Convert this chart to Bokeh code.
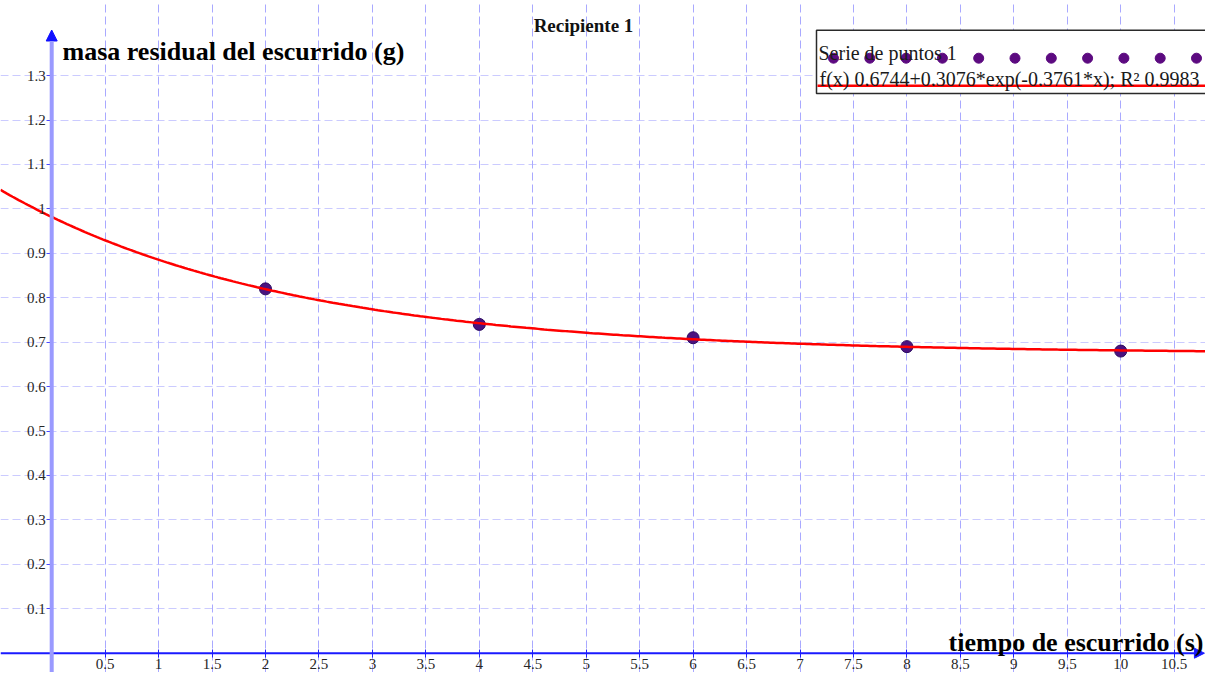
import numpy as np
from bokeh.plotting import figure
from bokeh.models import Range1d, FixedTicker, Arrow, NormalHead, Label
from bokeh.embed import file_html
from bokeh.resources import INLINE

# ---- texts ----
title_text = "Recipiente 1"
x_label = "tiempo de escurrido (s)"
y_label = "masa residual del escurrido (g)"
series_name = "Serie de puntos 1"
fit_label = "f(x) 0.6744+0.3076*exp(-0.3761*x); R² 0.9983"

# ---- data ----
tiempo = [2.0, 4.0, 6.0, 8.0, 10.0]
masa = [0.82, 0.74, 0.71, 0.69, 0.68]

# fitted model shown in the legend: f(x) = a + b*exp(k*x)
fit_a = 0.6744
fit_b = 0.3076
fit_k = -0.3761

# ---- ticks ----
x_ticks = [0.5, 1.0, 1.5, 2.0, 2.5, 3.0, 3.5, 4.0, 4.5, 5.0, 5.5, 6.0, 6.5, 7.0,
           7.5, 8.0, 8.5, 9.0, 9.5, 10.0, 10.5]
x_tick_labels = ["0.5", "1", "1.5", "2", "2.5", "3", "3.5", "4", "4.5", "5", "5.5",
                 "6", "6.5", "7", "7.5", "8", "8.5", "9", "9.5", "10", "10.5"]
y_ticks = [0.1, 0.2, 0.3, 0.4, 0.5, 0.6, 0.7, 0.8, 0.9, 1.0, 1.1, 1.2, 1.3]
y_tick_labels = ["0.1", "0.2", "0.3", "0.4", "0.5", "0.6", "0.7", "0.8", "0.9",
                 "1", "1.1", "1.2", "1.3"]

# ---- layout ----
W, H = 1205, 672
PX_X = 106.9     # pixels per x unit
PX_Y = 444.3     # pixels per y unit
X0_PAGE, Y0_PAGE = 51.2, 655.7   # reference position of the origin
OFF_X, OFF_Y = 0.0, 3.0          # reference pixel shown at the figure's top-left
x_min = (OFF_X - X0_PAGE) / PX_X
x_max = x_min + W / PX_X
y_max = (Y0_PAGE - OFF_Y) / PX_Y
y_min = y_max - H / PX_Y


def dx(px):
    return (px - X0_PAGE) / PX_X


def dy(py):
    return (Y0_PAGE - py) / PX_Y


SERIF = "Liberation Serif"

p = figure(width=W, height=H, x_range=Range1d(x_min, x_max), y_range=Range1d(y_min, y_max),
           output_backend="svg", toolbar_location=None, min_border=0,
           background_fill_color="white", border_fill_color="white")
p.outline_line_color = None

# axes crossing at the origin
xa = p.xaxis[0]
xa.fixed_location = 0
xa.ticker = FixedTicker(ticks=x_ticks)
xa.major_label_overrides = dict(zip(x_ticks, x_tick_labels))
xa.axis_line_color = None
xa.major_tick_line_color = "#2020ff"
xa.major_tick_in = 4
xa.major_tick_out = 4
xa.minor_tick_line_color = None
xa.major_label_text_font = SERIF
xa.major_label_text_font_size = "15px"
xa.major_label_text_color = "#262626"
xa.major_label_standoff = 2

ya = p.yaxis[0]
ya.fixed_location = 0
ya.ticker = FixedTicker(ticks=y_ticks)
ya.major_label_overrides = dict(zip(y_ticks, y_tick_labels))
ya.axis_line_color = None
ya.major_tick_line_color = "#2020ff"
ya.major_tick_line_alpha = 0.8
ya.major_tick_in = 0
ya.major_tick_out = 5
ya.minor_tick_line_color = None
ya.major_label_text_font = SERIF
ya.major_label_text_font_size = "15px"
ya.major_label_text_color = "#262626"
ya.major_label_standoff = 1

p.xgrid.grid_line_color = "#8c8cff"
p.xgrid.grid_line_alpha = 0.75
p.xgrid.grid_line_dash = "8 4"
p.ygrid.grid_line_color = "#a8a8ff"
p.ygrid.grid_line_alpha = 0.6
p.ygrid.grid_line_dash = "8 4"

# axis lines with arrows
p.add_layout(Arrow(x_start=x_min, y_start=0, x_end=x_max - 0.01, y_end=0,
                   line_color="#1a1aff", line_width=2,
                   end=NormalHead(size=10, fill_color="#1a1aff", line_color="#1a1aff")))
p.add_layout(Arrow(x_start=0, y_start=y_min, x_end=0, y_end=dy(32.5),
                   line_color="#9a9aff", line_width=4,
                   end=NormalHead(size=11, fill_color="#1010ff", line_color="#1010ff")))

# data points and fitted curve
p.scatter(tiempo, masa, size=12, fill_color="#4b1380", line_color="#2a0a60", line_width=1)
x_fit = np.linspace(x_min, x_max, 400)
y_fit = fit_a + fit_b * np.exp(fit_k * x_fit)
p.line(x_fit, y_fit, line_color="#ff0000", line_width=2.5)

# legend box
p.quad(left=[dx(816)], right=[dx(1300)], top=[dy(32.7)], bottom=[dy(96)],
       fill_color="white", line_color="#2a2a2a", line_width=1.5)
n_dots = 11
dot_x = [dx(833 + 36.3 * i) for i in range(n_dots)]
p.scatter(dot_x, [dy(60.7)] * n_dots, size=10, fill_color="#5c0a80", line_color="#5c0a80")
p.line([dx(817), dx(1300)], [dy(88.3), dy(88.3)], line_color="#ff0000", line_width=2.5)

p.add_layout(Label(x=dx(818), y=dy(55), text=series_name, text_font=SERIF,
                   text_font_size="20px", text_color="#1a1a1a", text_baseline="alphabetic"))
p.add_layout(Label(x=dx(819), y=dy(81.5), text=fit_label, text_font=SERIF,
                   text_font_size="20px", text_color="#1a1a1a", text_baseline="alphabetic"))

# titles / axis labels
p.add_layout(Label(x=dx(583), y=dy(28), text=title_text, text_font=SERIF,
                   text_font_size="19px", text_font_style="bold", text_color="#111111",
                   text_align="center", text_baseline="alphabetic"))
p.add_layout(Label(x=dx(62), y=dy(53.5), text=y_label, text_font=SERIF,
                   text_font_size="26px", text_font_style="bold", text_color="#000000",
                   text_baseline="alphabetic"))
p.add_layout(Label(x=dx(1203), y=dy(645), text=x_label, text_font=SERIF,
                   text_font_size="26px", text_font_style="bold", text_color="#000000",
                   text_align="right", text_baseline="alphabetic"))

open("out.html", "w").write(file_html(p, INLINE))
